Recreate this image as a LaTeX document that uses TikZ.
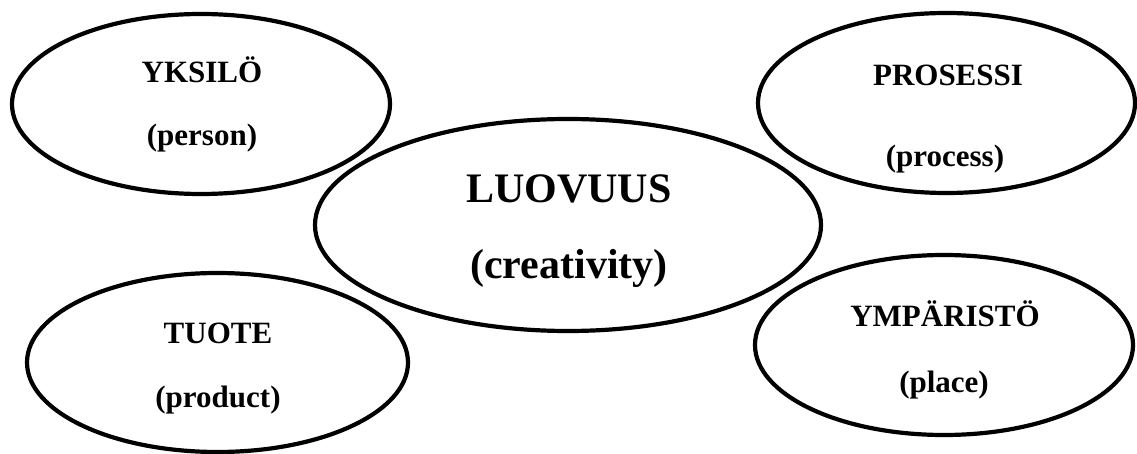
\documentclass[tikz,border=0pt]{standalone}
\usepackage{fontspec}
\setmainfont{Liberation Serif}
\usetikzlibrary{shapes.geometric}
\tikzset{
  oval/.style={draw=black, ellipse, line width=4.2pt, inner sep=0pt},
  small/.style={anchor=base, inner sep=0pt, font=\fontsize{31}{31}\selectfont\bfseries},
  big/.style={anchor=base, inner sep=0pt, font=\fontsize{42}{42}\selectfont\bfseries}
}
\begin{document}
\begin{tikzpicture}[x=1pt, y=-1pt]
\useasboundingbox (0,0) rectangle (1137,454);
% ellipses
\node[oval, minimum width=378pt, minimum height=180pt] (yk) at (201,104) {};
\node[oval, minimum width=377pt, minimum height=180pt] (pr) at (946.5,103) {};
\node[oval, minimum width=506pt, minimum height=212pt] (lu) at (568,225) {};
\node[oval, minimum width=381pt, minimum height=179pt] (tu) at (217.5,362.5) {};
\node[oval, minimum width=378pt, minimum height=180pt] (ym) at (944,345) {};
% texts
\node[small] (yk1) at (202,83) {YKSILÖ};
\node[small] (yk2) at (202,146) {(person)};
\node[small] (pr1) at (948,86) {PROSESSI};
\node[small] (pr2) at (945,167) {(process)};
\node[big] (lu1) at (569,203) {LUOVUUS};
\node[big] (lu2) at (569,279) {(creativity)};
\node[small] (tu1) at (218,343) {TUOTE};
\node[small] (tu2) at (218,407) {(product)};
\node[small] (ym1) at (945,326) {YMPÄRISTÖ};
\node[small] (ym2) at (944,392) {(place)};
\end{tikzpicture}
\end{document}
